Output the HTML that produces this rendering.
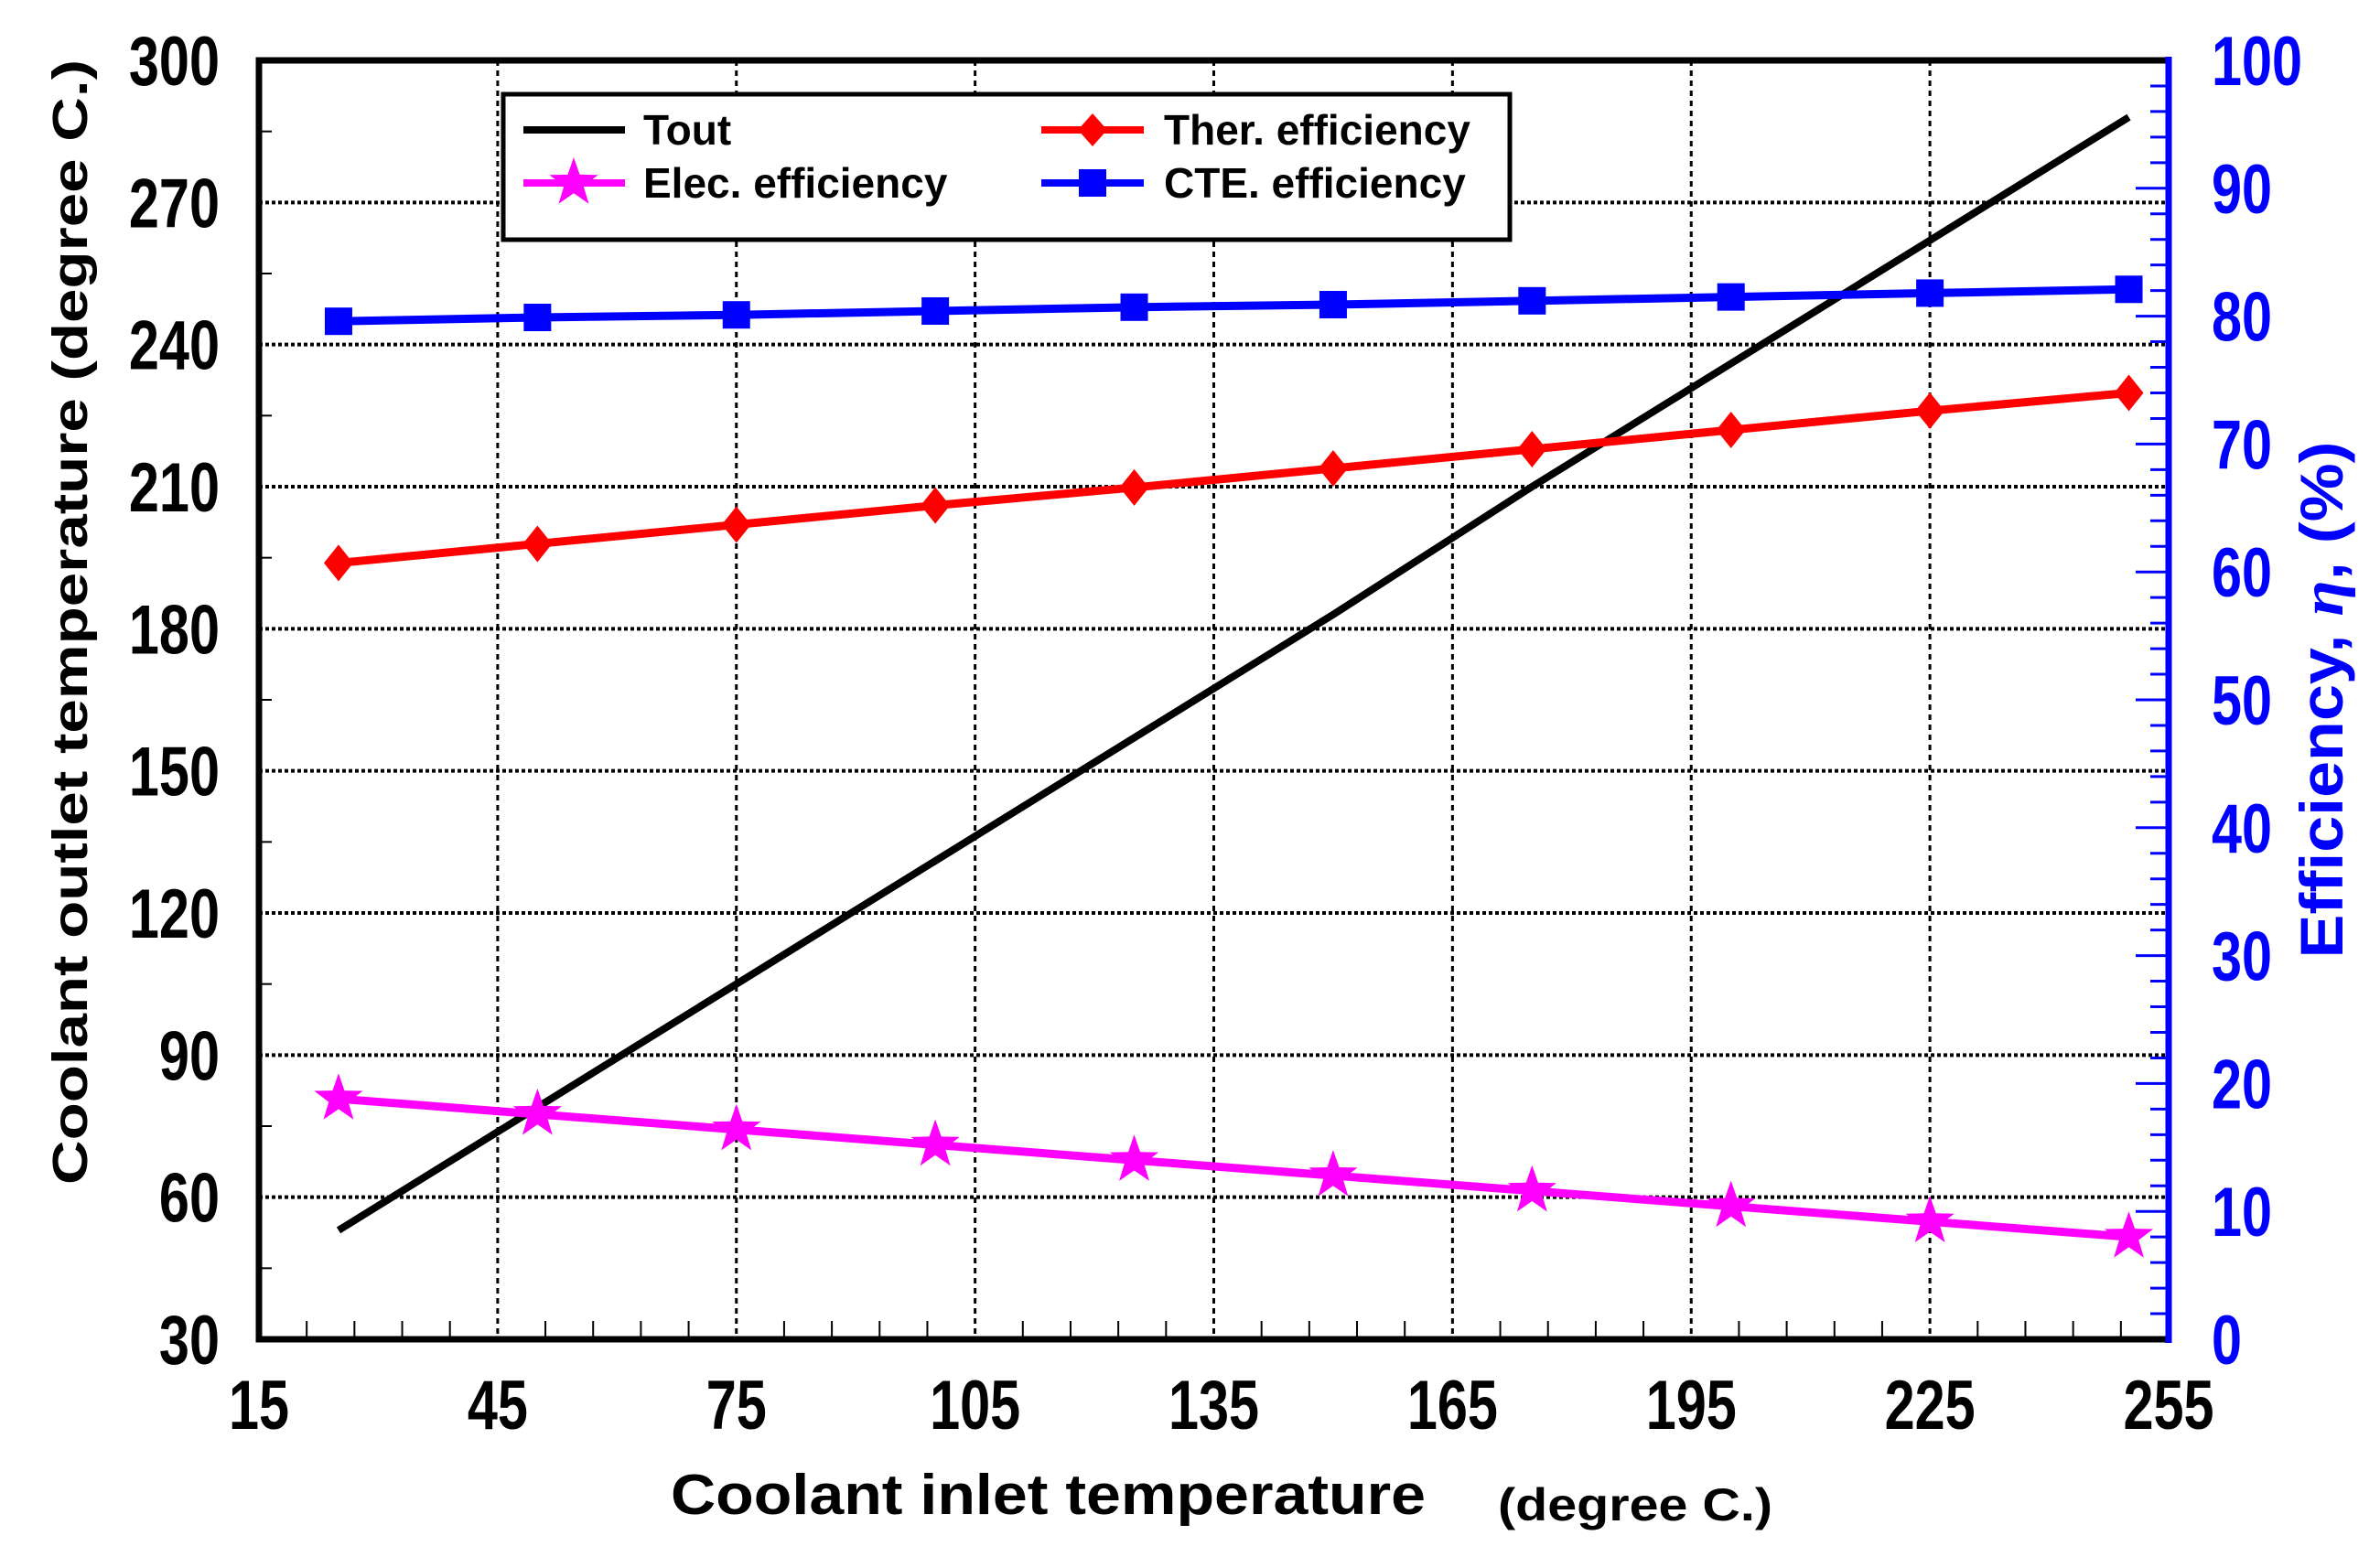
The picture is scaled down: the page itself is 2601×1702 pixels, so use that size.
<!DOCTYPE html>
<html><head><meta charset="utf-8"><style>
html,body{margin:0;padding:0;background:#fff;}
svg{display:block;font-family:"Liberation Sans",Arial,sans-serif;font-weight:bold;}
</style></head><body>
<svg id="chart" width="2601" height="1702" viewBox="0 0 2601 1702" xmlns="http://www.w3.org/2000/svg">
<rect x="0" y="0" width="2601" height="1702" fill="#fff"/>
<g id="grid"></g>
<g id="ticks"></g>
<g id="series"></g>
<rect x="283" y="66" width="2087" height="1398" fill="none" stroke="#000" stroke-width="7"/>
<line x1="2370" y1="62" x2="2370" y2="1468" stroke="#0000ff" stroke-width="7"/>
<g id="labels"></g>
<text transform="translate(95,680) rotate(-90)" text-anchor="middle" font-size="54" textLength="1230" lengthAdjust="spacingAndGlyphs">Coolant outlet temperature (degree C.)</text>
<text transform="translate(2560,765) rotate(-90)" text-anchor="middle" font-size="66" fill="#0000ff" textLength="565" lengthAdjust="spacingAndGlyphs">Efficiency, <tspan font-style="italic" font-family="Liberation Serif, serif">η</tspan>, (%)</text>
<text x="733" y="1655" font-size="62" textLength="825" lengthAdjust="spacingAndGlyphs">Coolant inlet temperature</text>
<text x="1637" y="1662" font-size="50" textLength="300" lengthAdjust="spacingAndGlyphs">(degree C.)</text>
<g>
<rect x="550" y="103" width="1100" height="159" fill="#fff" stroke="#000" stroke-width="5"/>
<g>
<line x1="572" y1="142" x2="683" y2="142" stroke="#000" stroke-width="8"/>
<text x="703" y="158" font-size="46">Tout</text></g>
<g>
<line x1="572" y1="200" x2="683" y2="200" stroke="#ff00ff" stroke-width="8"/>
<polygon id="legStar" fill="#ff00ff"/>
<text x="703" y="216" font-size="46">Elec. efficiency</text></g>
<g>
<line x1="1138" y1="142" x2="1250" y2="142" stroke="#ff0000" stroke-width="8"/>
<polygon points="1194,124 1210,142 1194,160 1178,142" fill="#ff0000"/>
<text x="1272" y="158" font-size="46">Ther. efficiency</text></g>
<g>
<line x1="1138" y1="200" x2="1250" y2="200" stroke="#0000ff" stroke-width="8"/>
<rect x="1179" y="185" width="30" height="30" fill="#0000ff"/>
<text x="1272" y="216" font-size="46">CTE. efficiency</text></g>
</g>
</svg>
<script>
const xValues = [25,50,75,100,125,150,175,200,225,250];
const toutValues = [53,79,105,131,157,183,210,236,262,288];
const therValues = [60.7,62.2,63.7,65.2,66.6,68.1,69.6,71.1,72.6,74.0];
const cteValues = [79.6,79.9,80.1,80.4,80.7,80.9,81.2,81.5,81.8,82.1];
const elecValues = [18.8,17.6,16.4,15.2,14.0,12.8,11.6,10.4,9.2,8.0];
const xTicks = [15,45,75,105,135,165,195,225,255];
const yTicks = [30,60,90,120,150,180,210,240,270,300];
const y2Ticks = [0,10,20,30,40,50,60,70,80,90,100];

const L=283,R=2370,T=66,B=1464;
const NS='http://www.w3.org/2000/svg';
function sx(v){return L+(v-15)/240*(R-L);}
function sy(v){return B-(v-30)/270*(B-T);}
function sy2(v){return B-v/100*(B-T);}
function mk(tag,attrs,parent){const e=document.createElementNS(NS,tag);for(const k in attrs)e.setAttribute(k,attrs[k]);parent.appendChild(e);return e;}
const grid=document.getElementById('grid'),ticks=document.getElementById('ticks'),labels=document.getElementById('labels'),series=document.getElementById('series');
function lbl(x,y,txt,anchor,color){
  const t=mk('text',{transform:`translate(${x},${y}) scale(0.9,1.15)`,'text-anchor':anchor,'font-size':66,fill:color},labels);
  t.textContent=txt;return t;}

xTicks.forEach(v=>{
  if(v>15&&v<255){const l=mk('line',{x1:sx(v),y1:T,x2:sx(v),y2:B,stroke:'#000','stroke-width':3,'stroke-dasharray':'6,5'},grid);
  
  }
  const t=lbl(sx(v),1562,v,'middle','#000');
  
  
});
yTicks.forEach(v=>{
  if(v>30&&v<300){const l=mk('line',{x1:L,y1:sy(v),x2:R,y2:sy(v),stroke:'#000','stroke-width':4,'stroke-dasharray':'4,3'},grid);
  
  }
  const t=lbl(240,sy(v)+27,v,'end','#000');
  
  
});
for(let v=45;v<300;v+=30){mk('line',{x1:L,y1:sy(v),x2:L+14,y2:sy(v),stroke:'#000','stroke-width':2},ticks);}
for(let v=21;v<255;v+=6){if((v-15)%30!==0)mk('line',{x1:sx(v),y1:B,x2:sx(v),y2:B-20,stroke:'#000','stroke-width':2},ticks);}
for(let v=2;v<100;v+=2){const major=v%10===0;mk('line',{x1:R,y1:sy2(v),x2:R-(major?36:20),y2:sy2(v),stroke:'#0000ff','stroke-width':3},ticks);}
y2Ticks.forEach(v=>{const t=lbl(2417,sy2(v)+27,v,'start','#0000ff');
  
  });

function line(xs,ys,color,w,name){const p=mk('polyline',{points:xs.map((x,i)=>x+','+ys[i]).join(' '),fill:'none',stroke:color,'stroke-width':w},series);
  
  }
function starPts(cx,cy,r){let s=[];for(let i=0;i<10;i++){const a=-Math.PI/2+i*Math.PI/5;const rr=i%2?r*0.4:r;s.push((cx+rr*Math.cos(a)).toFixed(1)+','+(cy+rr*Math.sin(a)).toFixed(1));}return s.join(' ');}
document.getElementById('legStar').setAttribute('points',starPts(627,200,28));

line(xValues.map(sx),toutValues.map(sy),'#000',8,'tout-line');
line(xValues.map(sx),therValues.map(sy2),'#ff0000',9,'ther-line');
line(xValues.map(sx),cteValues.map(sy2),'#0000ff',9,'cte-line');
line(xValues.map(sx),elecValues.map(sy2),'#ff00ff',9,'elec-line');
xValues.forEach((x,i)=>{
  const X=sx(x);
  let y=sy2(therValues[i]);
  const d=mk('polygon',{points:`${X},${y-20} ${X+16},${y} ${X},${y+20} ${X-16},${y}`,fill:'#ff0000'},series);
  
  
  y=sy2(cteValues[i]);
  const s=mk('rect',{x:X-15,y:y-15,width:30,height:30,fill:'#0000ff'},series);
  
  
  y=sy2(elecValues[i]);
  const st=mk('polygon',{points:starPts(X,y,28),fill:'#ff00ff'},series);
  
  
});
</script>
</body></html>
